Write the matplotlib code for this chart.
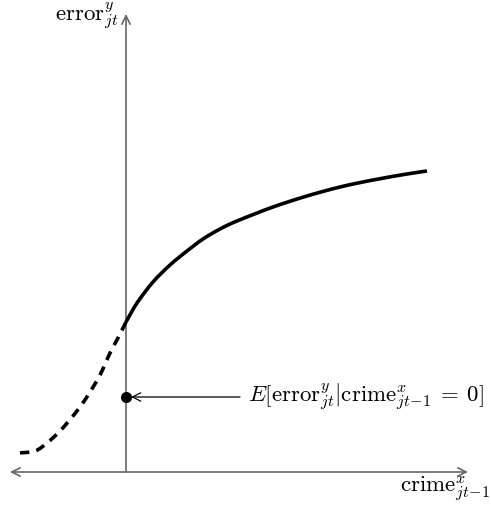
import matplotlib
matplotlib.use("Agg")
import matplotlib.pyplot as plt
import numpy as np
from matplotlib.patches import FancyArrowPatch, PathPatch
from matplotlib.path import Path

plt.rcParams['mathtext.fontset'] = 'cm'

# data in coordinates relative to origin (x right, y up)
solid_x = [0, 11, 27, 44, 61, 77, 94, 111, 147, 181, 214, 247, 281, 301]
solid_y = [150, 169, 190, 207, 221, 233, 243, 251, 265, 276, 285, 292, 298, 301]
dash_x = [0, -8, -16, -26, -36, -46, -58, -68, -79, -91, -108]
dash_y = [150, 134, 119, 97, 80, 65, 50, 39, 29, 21, 19]
dot_x = [0]
dot_y = [75]
y_label = r"$\mathrm{error}^{y}_{jt}$"
x_label = r"$\mathrm{crime}^{x}_{jt\!-\!1}$"
ann_label = r"$E[\mathrm{error}^{y}_{jt}|\mathrm{crime}^{x}_{jt\!-\!1}\:=\:0]$"


def smooth_path(xs, ys):
    p = np.column_stack([xs, ys]).astype(float)
    n = len(p)
    verts = [p[0]]
    codes = [Path.MOVETO]
    for i in range(n - 1):
        p0 = p[i - 1] if i > 0 else p[i]
        p3 = p[i + 2] if i + 2 < n else p[i + 1]
        c1 = p[i] + (p[i + 1] - p0) / 6.0
        c2 = p[i + 1] - (p3 - p[i]) / 6.0
        verts += [c1, c2, p[i + 1]]
        codes += [Path.CURVE4] * 3
    return Path(verts, codes)


W, H = 491, 508
ox, oy = 126, 472
fig = plt.figure(figsize=(W/100, H/100), dpi=100)
ax = fig.add_axes([0, 0, 1, 1])
ax.set_xlim(-ox, W-ox)
ax.set_ylim(-(H-oy), oy)
ax.axis('off')

axc = '#666666'
ax.add_patch(FancyArrowPatch((-116, 0), (342, 0), arrowstyle='<->,head_length=6,head_width=3',
                             color=axc, lw=1.2, mutation_scale=1, shrinkA=0, shrinkB=0))
ax.add_patch(FancyArrowPatch((0, 0), (0, 458), arrowstyle='->,head_length=6,head_width=3',
                             color=axc, lw=1.2, mutation_scale=1, shrinkA=0, shrinkB=0))

ax.add_patch(PathPatch(smooth_path(solid_x, solid_y), fill=False, ec='black', lw=2.6,
                       capstyle='butt'))
ax.add_patch(PathPatch(smooth_path(dash_x, dash_y), fill=False, ec='black', lw=2.6,
                       ls=(0, (2.6, 2.0)), capstyle='butt'))
ax.plot(dot_x, dot_y, 'o', color='black', ms=7)

ax.add_patch(FancyArrowPatch((114, 75), (5, 75), arrowstyle='->,head_length=6,head_width=3',
                             color='black', lw=0.9, mutation_scale=1, shrinkA=0, shrinkB=0))
ax.text(122, 70, ann_label, fontsize=16.5, ha='left', va='baseline')
ax.text(-8, 451, y_label, fontsize=16.5, ha='right', va='baseline')
ax.text(364, -20, x_label, fontsize=16.5, ha='right', va='baseline')

fig.savefig('out.png', dpi=100)
